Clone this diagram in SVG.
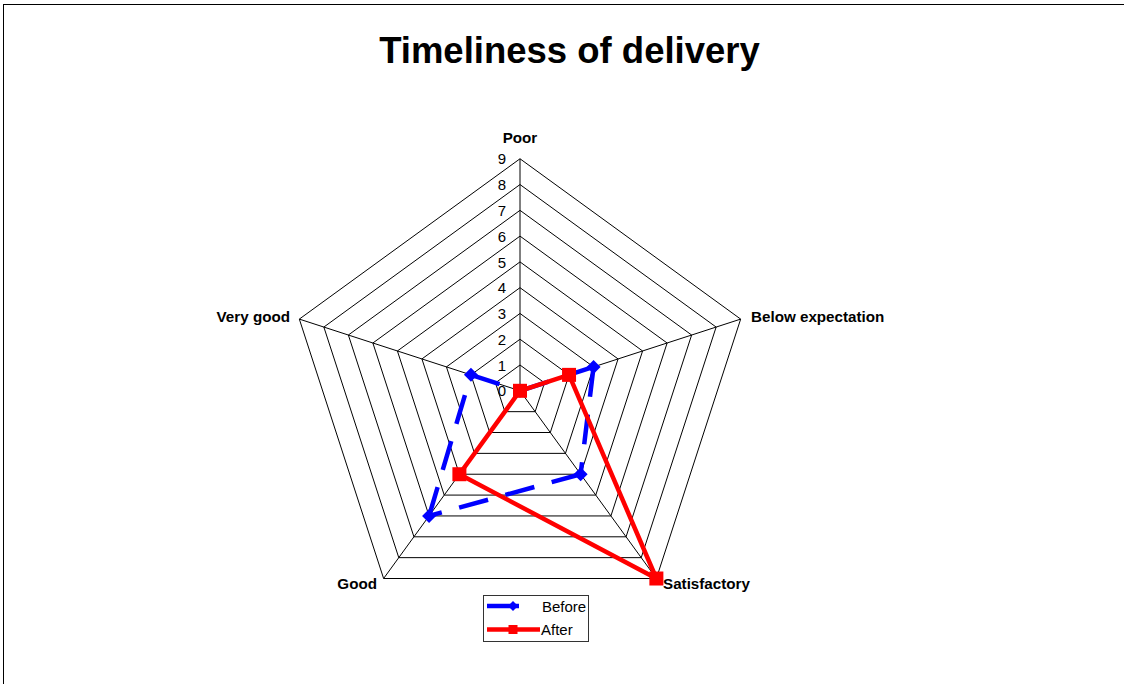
<svg xmlns="http://www.w3.org/2000/svg" width="1124" height="684" viewBox="0 0 1124 684">
<style>
.grid{fill:none;stroke:#000;stroke-width:1}
.axl{font-family:"Liberation Sans",Arial,sans-serif;font-size:15.2px;font-weight:bold;fill:#000}
.num{font-family:"Liberation Sans",Arial,sans-serif;font-size:15px;fill:#000;text-anchor:end}
.leg{font-family:"Liberation Sans",Arial,sans-serif;font-size:15px;fill:#000}
.blue{stroke:#0000ff;stroke-width:4.5;fill:none;stroke-dasharray:30 18}
.red{stroke:#ff0000;stroke-width:4.5;fill:none;stroke-linejoin:round}
</style>
<defs>
<path id="dia" d="M0,-7 L7,0 L0,7 L-7,0 Z" fill="#0000ff"/>
<rect id="sq" x="-7" y="-7" width="14" height="14" fill="#ff0000"/>
</defs>
<rect x="0" y="0" width="1124" height="684" fill="#fff"/>
<rect x="3.5" y="4.5" width="1130" height="700" fill="none" stroke="#000" stroke-width="1"/>
<g id="title"><text x="569.5" y="62.5" text-anchor="middle" style="font-family:'Liberation Sans',Arial,sans-serif;font-size:36.5px;font-weight:bold">Timeliness of delivery</text></g>
<g id="grid">
<polygon class="grid" points="520,365.02 544.52,382.83 535.15,411.66 504.85,411.66 495.48,382.83"/>
<polygon class="grid" points="520,339.24 569.04,374.87 550.31,432.51 489.69,432.51 470.96,374.87"/>
<polygon class="grid" points="520,313.46 593.55,366.90 565.46,453.37 474.54,453.37 446.45,366.90"/>
<polygon class="grid" points="520,287.68 618.07,358.93 580.61,474.23 459.39,474.23 421.93,358.93"/>
<polygon class="grid" points="520,261.90 642.59,350.97 595.77,495.08 444.23,495.08 397.41,350.97"/>
<polygon class="grid" points="520,236.12 667.11,343.00 610.92,515.94 429.08,515.94 372.89,343.00"/>
<polygon class="grid" points="520,210.34 691.63,335.03 626.07,536.80 413.93,536.80 348.37,335.03"/>
<polygon class="grid" points="520,184.56 716.14,327.07 641.22,557.65 398.78,557.65 323.86,327.07"/>
<polygon class="grid" points="520,158.78 740.66,319.10 656.38,578.51 383.62,578.51 299.34,319.10"/>
<line class="grid" x1="520" y1="390.8" x2="520" y2="158.78"/>
<line class="grid" x1="520" y1="390.8" x2="740.66" y2="319.10"/>
<line class="grid" x1="520" y1="390.8" x2="656.38" y2="578.51"/>
<line class="grid" x1="520" y1="390.8" x2="383.62" y2="578.51"/>
<line class="grid" x1="520" y1="390.8" x2="299.34" y2="319.10"/>
</g>
<g id="scale">
<text class="num" x="506" y="396.4">0</text>
<text class="num" x="506" y="370.6">1</text>
<text class="num" x="506" y="344.8">2</text>
<text class="num" x="506" y="319.1">3</text>
<text class="num" x="506" y="293.3">4</text>
<text class="num" x="506" y="267.5">5</text>
<text class="num" x="506" y="241.7">6</text>
<text class="num" x="506" y="215.9">7</text>
<text class="num" x="506" y="190.2">8</text>
<text class="num" x="506" y="164.4">9</text>
</g>
<g id="axis-labels">
<text class="axl" x="520" y="143" text-anchor="middle">Poor</text>
<text class="axl" x="751" y="322">Below expectation</text>
<text class="axl" x="663" y="589">Satisfactory</text>
<text class="axl" x="377" y="589" text-anchor="end">Good</text>
<text class="axl" x="290" y="322" text-anchor="end">Very good</text>
</g>
<g id="connectors">
<g id="series-before">
<line class="blue" x1="520" y1="390.8" x2="593.55" y2="366.90"/>
<line class="blue" x1="593.55" y1="366.90" x2="580.61" y2="474.23"/>
<line class="blue" x1="580.61" y1="474.23" x2="429.08" y2="515.94"/>
<line class="blue" x1="429.08" y1="515.94" x2="470.96" y2="374.87"/>
<line class="blue" x1="470.96" y1="374.87" x2="520" y2="390.8"/>
<use href="#dia" x="520" y="390.8"/>
<use href="#dia" x="593.55" y="366.90"/>
<use href="#dia" x="580.61" y="474.23"/>
<use href="#dia" x="429.08" y="515.94"/>
<use href="#dia" x="470.96" y="374.87"/>
</g>
<g id="series-after">
<polyline class="red" points="520,390.8 569.04,374.87 656.38,578.51 459.39,474.23 520,390.8"/>
<use href="#sq" x="520" y="390.8"/>
<use href="#sq" x="569.04" y="374.87"/>
<use href="#sq" x="656.38" y="578.51"/>
<use href="#sq" x="459.39" y="474.23"/>
</g>
</g>
<g id="legend">
<rect x="483.5" y="595.5" width="105" height="46" fill="#fff" stroke="#333" stroke-width="1"/>
<line x1="487" y1="606" x2="535" y2="606" stroke="#0000ff" stroke-width="4.5" stroke-dasharray="32 18"/>
<path d="M513,601 L518,606 L513,611 L508,606 Z" fill="#0000ff"/>
<text class="leg" x="542" y="612">Before</text>
<line x1="487" y1="629.5" x2="540" y2="629.5" stroke="#ff0000" stroke-width="4.5"/>
<rect x="508.5" y="625" width="9" height="9" fill="#ff0000"/>
<text class="leg" x="541" y="635">After</text>
</g>
</svg>
